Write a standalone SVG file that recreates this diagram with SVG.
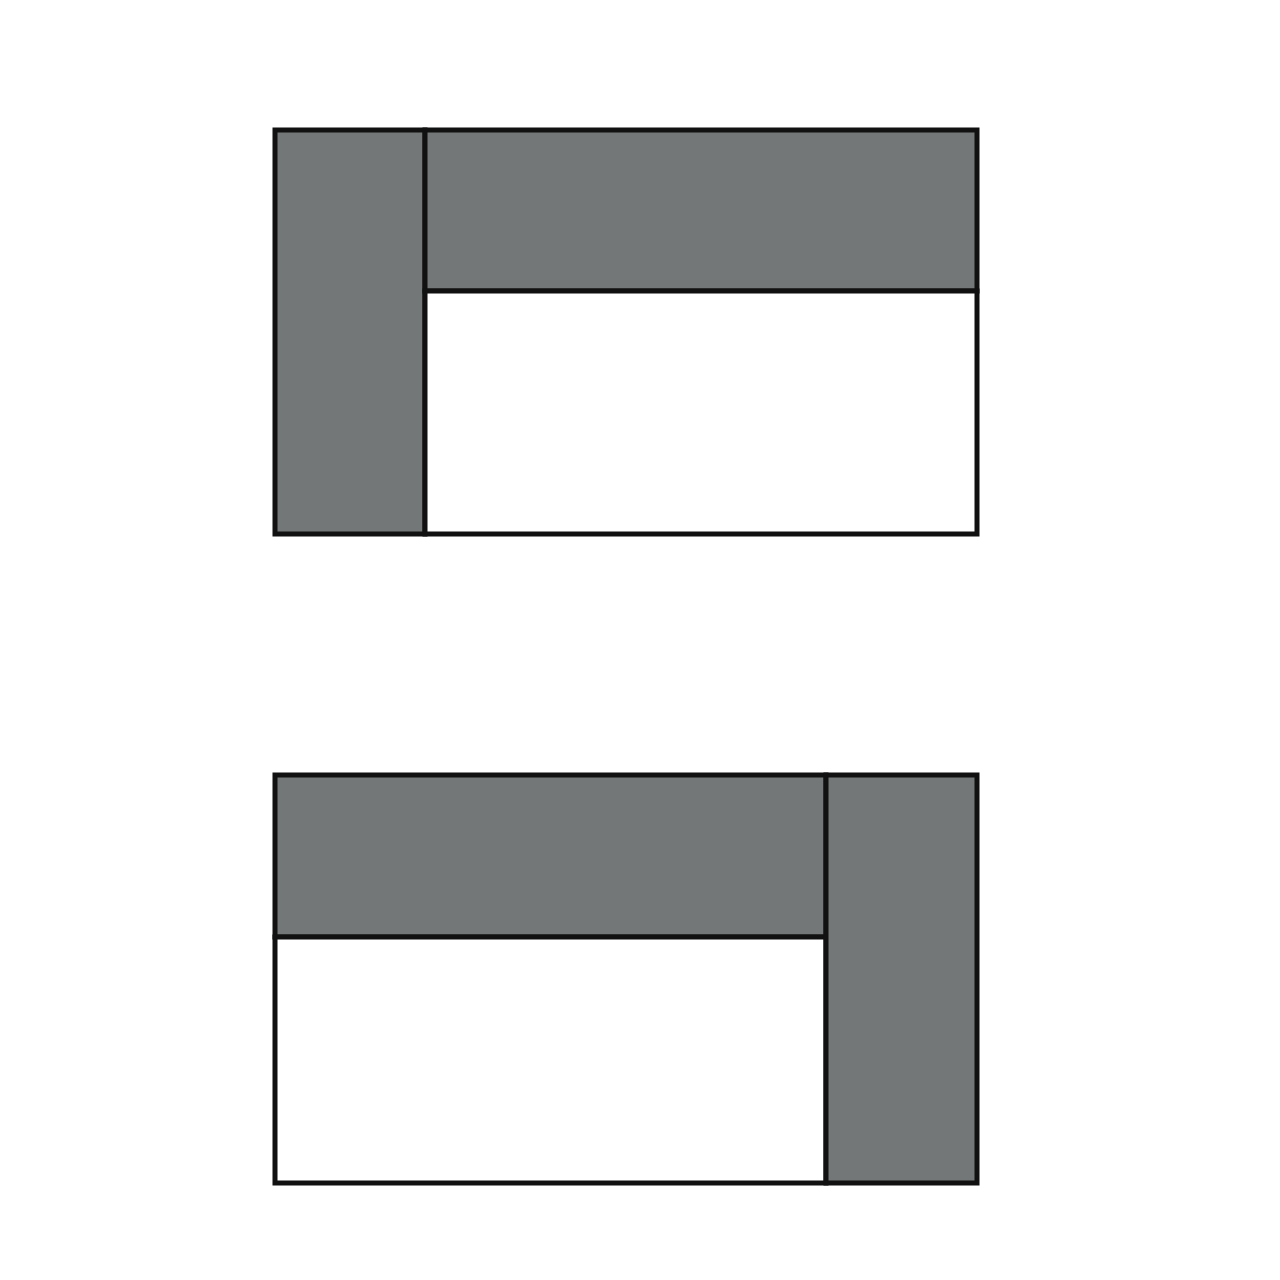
<svg xmlns="http://www.w3.org/2000/svg" width="1280" height="1280" viewBox="0 0 1280 1280">
<style>
.g{fill:#747777;stroke:#111;stroke-width:5}
.w{fill:#fff;stroke:#111;stroke-width:5}
</style>
<rect width="1280" height="1280" fill="#fff"/>
<g id="top">
<rect class="g" x="275" y="130" width="150" height="404"/>
<rect class="g" x="425" y="130" width="552" height="161"/>
<rect class="w" x="425" y="291" width="552" height="243"/>
</g>
<g id="bottom">
<rect class="g" x="275" y="775" width="551" height="162"/>
<rect class="w" x="275" y="937" width="551" height="246"/>
<rect class="g" x="826" y="775" width="151" height="408"/>
</g>
</svg>
